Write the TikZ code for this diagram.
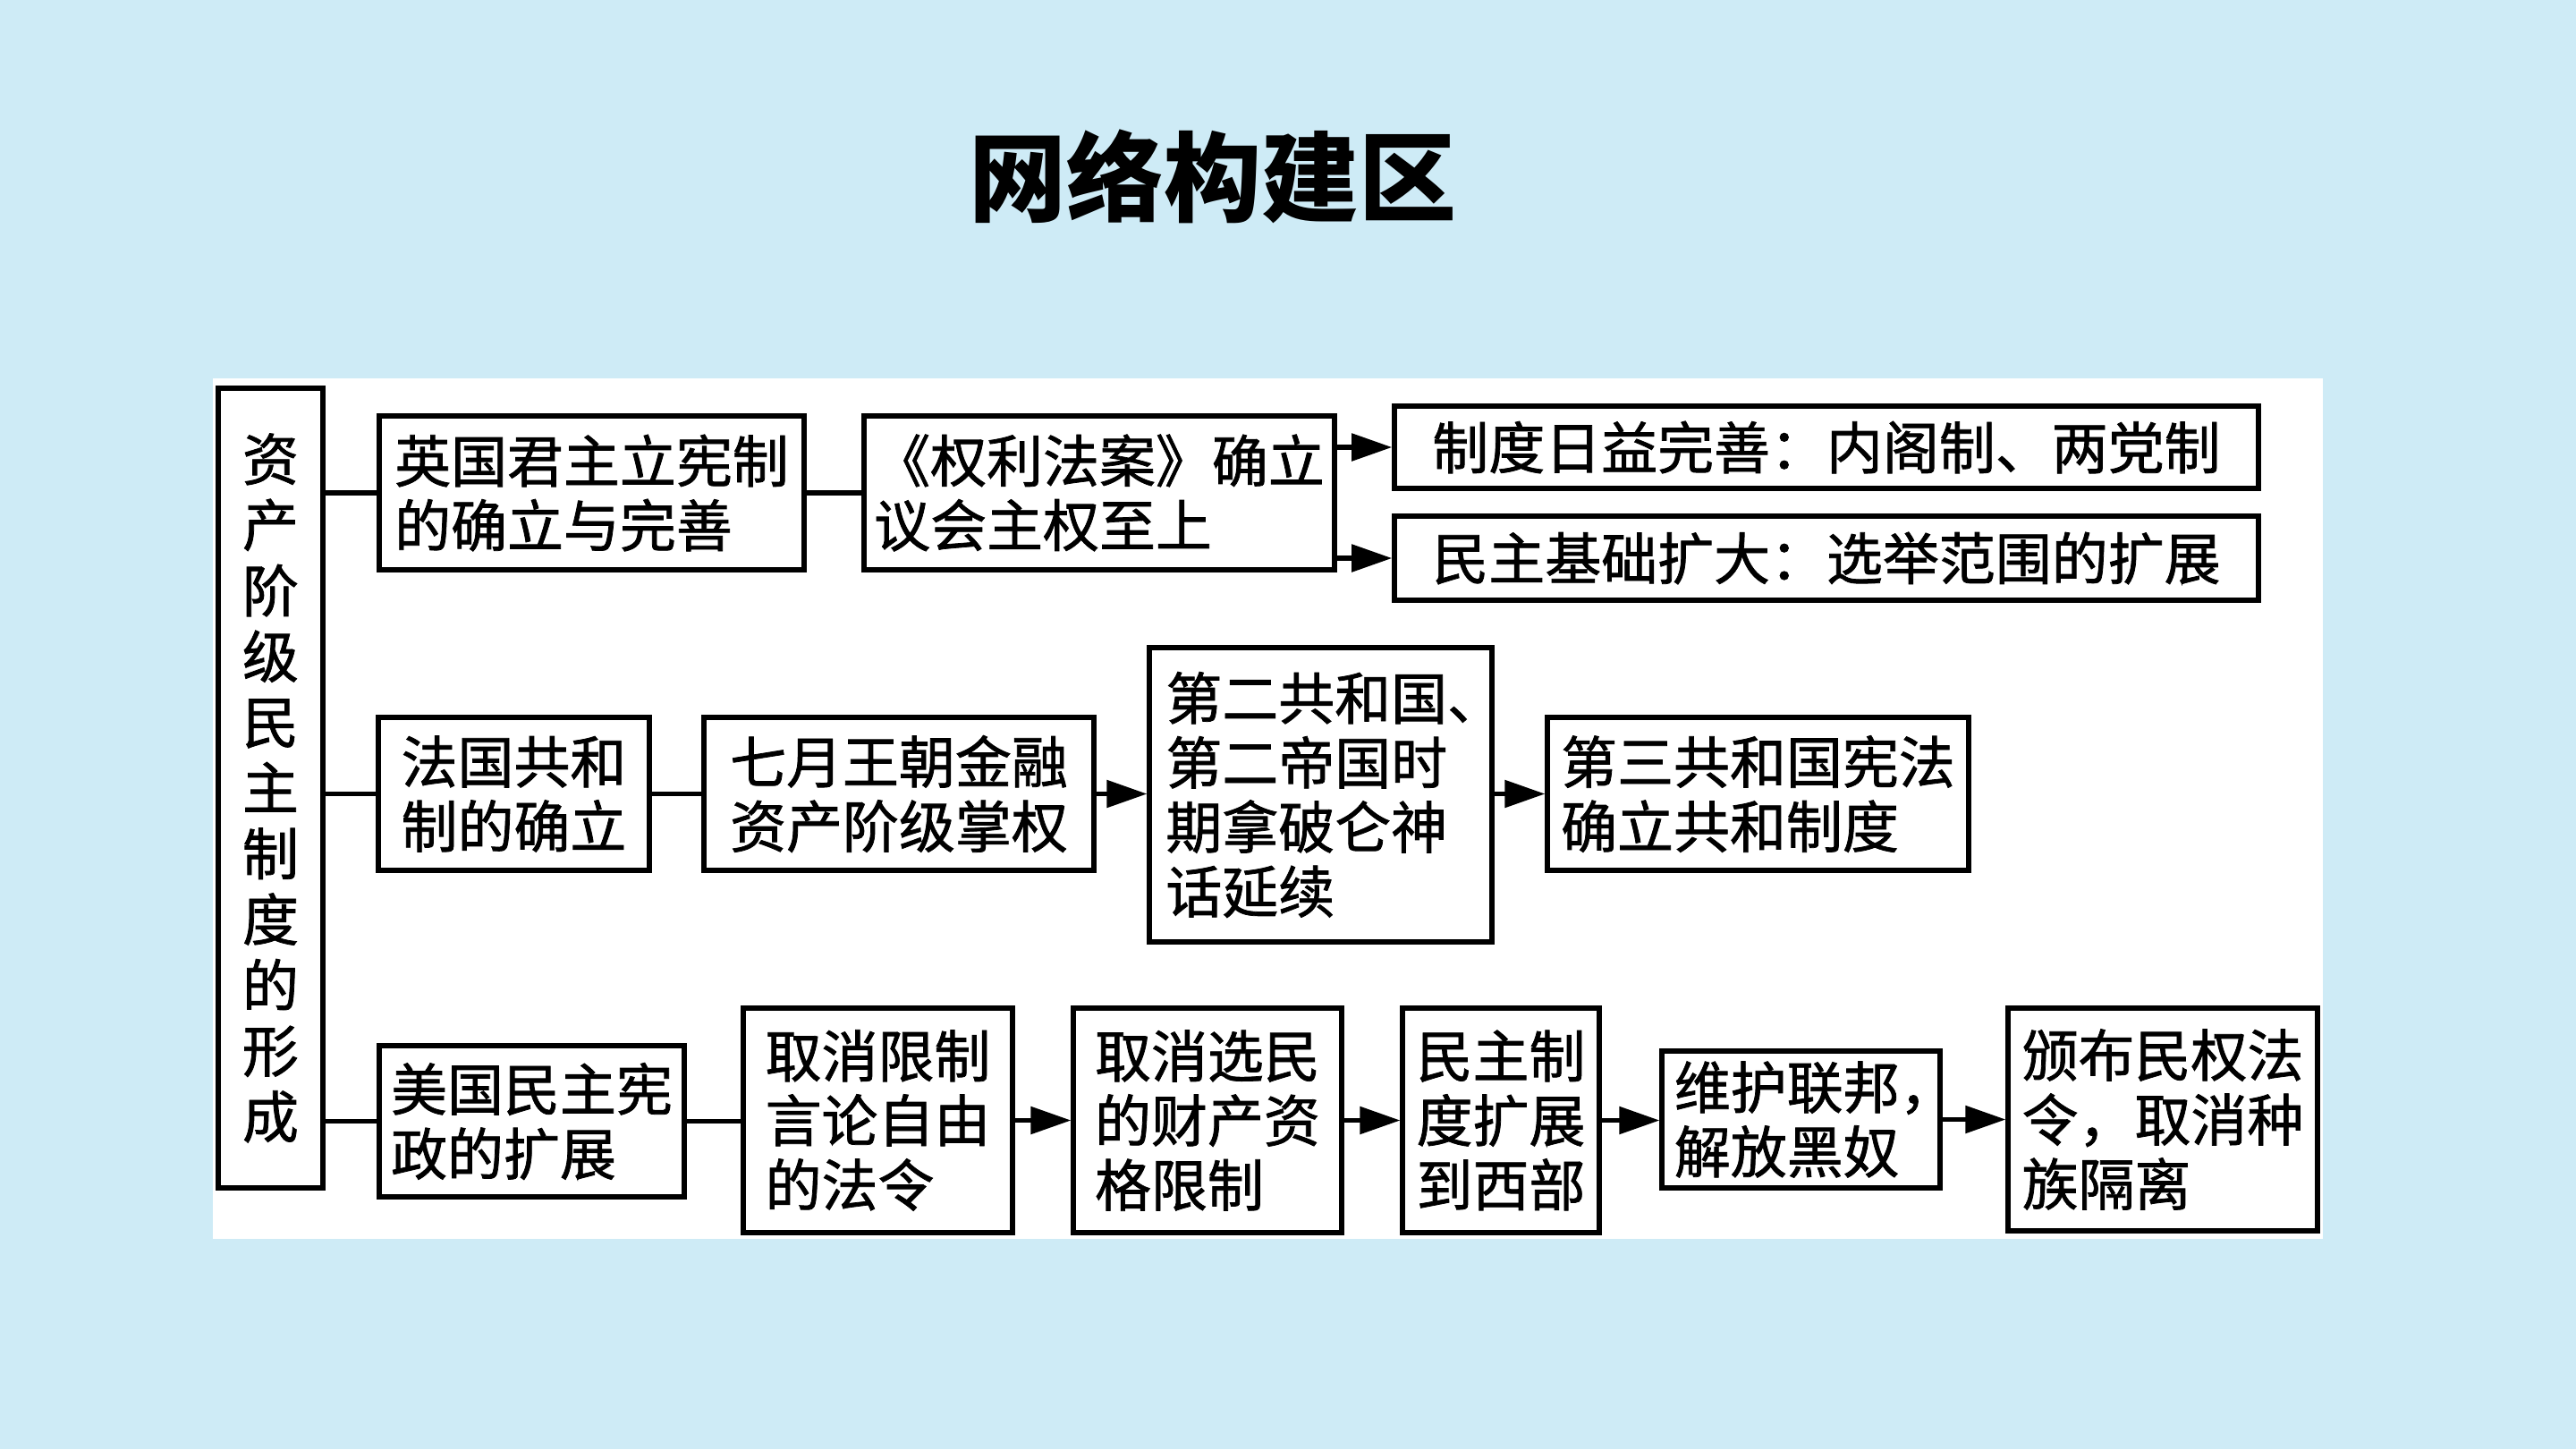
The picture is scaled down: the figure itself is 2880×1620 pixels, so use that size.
\documentclass[tikz,border=0pt]{standalone}
\usepackage{fontspec}
\newfontfamily\cjk{Noto Sans CJK SC}
\newfontfamily\cjkm{Noto Sans CJK SC}[FakeBold=1.2]
\usetikzlibrary{arrows.meta}
\definecolor{bgblue}{RGB}{206,235,246}
\tikzset{
  box/.style={draw=black, line width=1.7pt, fill=white, inner sep=0pt, align=left,
    font=\cjkm\fontsize{17.9pt}{20.5pt}\selectfont},
  conn/.style={line width=1.5pt},
  arr/.style={line width=1.5pt, -{Triangle[length=4.5mm,width=3mm]}},
}
\begin{document}
\begin{tikzpicture}[x=0.01cm, y=-0.01cm]
\useasboundingbox (0,0) rectangle (2880,1620);
\fill[bgblue] (0,0) rectangle (2880,1620);
\fill[white] (238,423) rectangle (2597,1385);

\node (title) at (1356,197) {\cjk\bfseries\fontsize{31pt}{36pt}\selectfont 网络构建区};

\node[box, align=center, minimum width=1.16cm, minimum height=8.93cm,
  font=\cjkm\fontsize{17.9pt}{20.9pt}\selectfont] (L) at (302.5,881)
  {资\\产\\阶\\级\\民\\主\\制\\度\\的\\形\\成};

% Row 1
\node[box, minimum width=4.74cm, minimum height=1.71cm] (B1) at (661.5,551) {英国君主立宪制\\的确立与完善};
\node[box, minimum width=5.25cm, minimum height=1.71cm] (B2) at (1229,551) {《权利法案》确立\\议会主权至上};
\node[box, minimum width=9.65cm, minimum height=0.92cm] (B3) at (2042,500) {制度日益完善：内阁制、两党制};
\node[box, minimum width=9.65cm, minimum height=0.93cm] (B4) at (2042,624) {民主基础扩大：选举范围的扩展};

% Row 2
\node[box, minimum width=3.02cm, minimum height=1.70cm] (C1) at (574.5,887.5) {法国共和\\制的确立};
\node[box, minimum width=4.35cm, minimum height=1.70cm] (C2) at (1005,887.5) {七月王朝金融\\资产阶级掌权};
\node[box, minimum width=3.82cm, minimum height=3.28cm] (C3) at (1476.5,888.5) {第二共和国\makebox[0.5em][l]{、}\\第二帝国时\\期拿破仑神\\话延续};
\node[box, minimum width=4.70cm, minimum height=1.70cm] (C4) at (1965.5,887.5) {第三共和国宪法\\确立共和制度};

% Row 3
\node[box, minimum width=3.40cm, minimum height=1.68cm] (D1) at (594.5,1253.5) {美国民主宪\\政的扩展};
\node[box, minimum width=3.00cm, minimum height=2.50cm] (D2) at (981.5,1252.5) {取消限制\\言论自由\\的法令};
\node[box, minimum width=2.99cm, minimum height=2.50cm] (D3) at (1350,1252.5) {取消选民\\的财产资\\格限制};
\node[box, minimum width=2.19cm, minimum height=2.50cm] (D4) at (1678,1252.5) {民主制\\度扩展\\到西部};
\node[box, minimum width=3.10cm, minimum height=1.52cm] (D5) at (2013.5,1251.5) {维护联邦\makebox[0.5em][l]{，}\\解放黑奴};
\node[box, minimum width=3.45cm, minimum height=2.48cm] (D6) at (2418,1251.5) {颁布民权法\\令，取消种\\族隔离};

% Connectors row 1
\draw[conn] (L.east |- B1.west) -- (B1.west);
\draw[conn] (B1.east) -- (B2.west);
\draw[arr] (B2.east |- B3.west) -- (B3.west);
\draw[arr] (B2.east |- B4.west) -- (B4.west);

% Connectors row 2
\draw[conn] (L.east |- C1.west) -- (C1.west);
\draw[conn] (C1.east) -- (C2.west);
\draw[arr] (C2.east) -- (C3.west |- C2.east);
\draw[arr] (C3.east |- C4.west) -- (C4.west);

% Connectors row 3
\draw[conn] (L.east |- D1.west) -- (D1.west);
\draw[conn] (D1.east) -- (D2.west |- D1.east);
\draw[arr] (D2.east) -- (D3.west |- D2.east);
\draw[arr] (D3.east) -- (D4.west |- D3.east);
\draw[arr] (D4.east) -- (D5.west |- D4.east);
\draw[arr] (D5.east) -- (D6.west |- D5.east);
\end{tikzpicture}
\end{document}
